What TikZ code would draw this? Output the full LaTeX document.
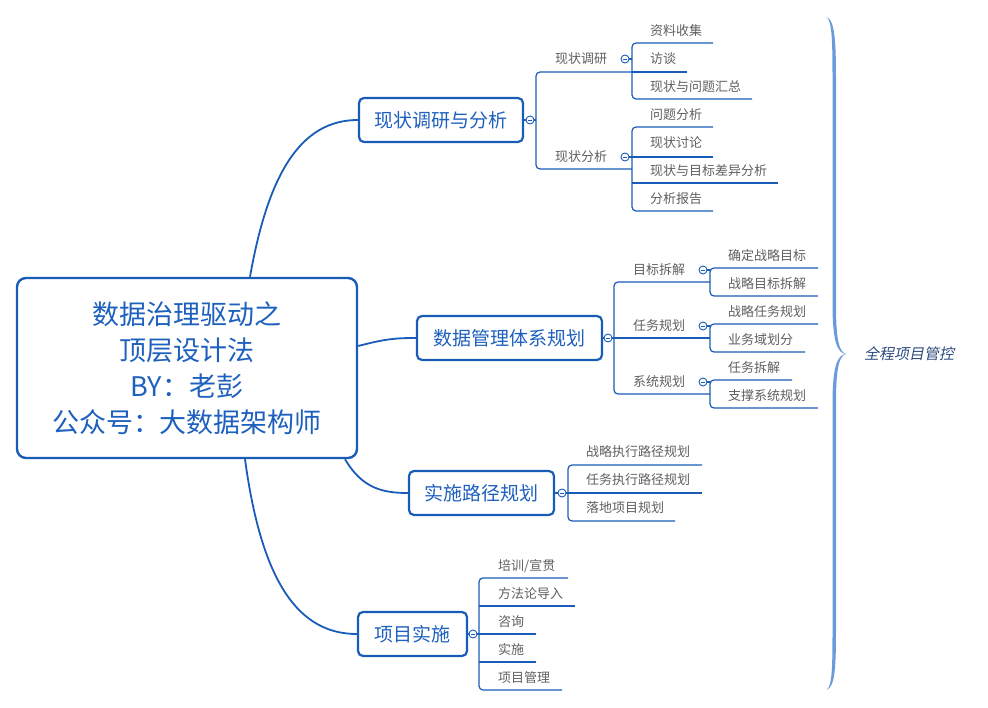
\documentclass[tikz,border=0pt]{standalone}
\usepackage{fontspec}
\setmainfont{Noto Sans CJK SC}
\newfontfamily\slantfont[FakeSlant=0.2]{Noto Sans CJK SC}
\definecolor{mblue}{RGB}{24,92,184}
\definecolor{tblue}{RGB}{30,96,190}
\definecolor{leafgray}{RGB}{95,95,95}
\definecolor{bracecol}{RGB}{105,155,218}
\definecolor{notecol}{RGB}{45,75,125}
\begin{document}
\begin{tikzpicture}[x=1pt,y=-1pt,
  rootbox/.style={draw=mblue, line width=2.4pt, rounded corners=9pt, fill=white, align=center, text=tblue, inner sep=0pt},
  brbox/.style={draw=mblue, line width=2.2pt, rounded corners=5pt, fill=white, text=tblue, inner sep=0pt, minimum height=44pt, font=\fontsize{19}{22}\selectfont},
  tog/.style={circle, draw=mblue, fill=white, line width=0.9pt, minimum size=8pt, inner sep=0pt,
    path picture={\draw[mblue,line width=0.7pt] ([xshift=-2.2pt]path picture bounding box.center) -- ([xshift=2.2pt]path picture bounding box.center);}},
  leaf/.style={anchor=west, inner sep=0pt, font=\fontsize{13}{15}\selectfont, text=leafgray},
  ul/.style={draw=mblue, line width=1.2pt},
  conn/.style={draw=mblue, line width=1.8pt},
  rc/.style={rounded corners=4pt}
]
\useasboundingbox (0,0) rectangle (988,708);

% root
\node[rootbox, minimum width=340pt, minimum height=180pt, font=\fontsize{27}{36}\selectfont] (root) at (187,368)
  {数据治理驱动之\\顶层设计法\\BY：老彭\\公众号：大数据架构师};

% branch boxes
\node[brbox, minimum width=164pt] (b1) at (441,120) {现状调研与分析};
\node[brbox, minimum width=185pt] (b2) at (509.5,338) {数据管理体系规划};
\node[brbox, minimum width=145pt] (b3) at (481.5,493) {实施路径规划};
\node[brbox, minimum width=109pt] (b4) at (412.5,634) {项目实施};

% root connectors
\draw[conn] ([xshift=63pt]root.north) .. controls (268,175) and (300,120) .. (b1.west);
\draw[conn] ([yshift=22pt]root.east) .. controls (385,339) and (395,338) .. (b2.west);
\draw[conn] ([xshift=158pt]root.south) .. controls (362,488) and (382,493) .. (b3.west);
\draw[conn] ([xshift=58pt]root.south) .. controls (262,585) and (300,634) .. (b4.west);

% toggles
\node[tog] (t1) at (530,120) {};
\node[tog] (t2) at (608,338) {};
\node[tog] (t3) at (562,493) {};
\node[tog] (t4) at (473,634) {};
\node[tog] (t11) at (625,59) {};
\node[tog] (t12) at (625,157) {};
\node[tog] (t21) at (703,270) {};
\node[tog] (t22) at (703,326) {};
\node[tog] (t23) at (703,382) {};

% ---------- branch 1 ----------
\draw[ul] (b1.east) -- (t1.west);
\draw[ul] (t1.east) -- (536,120);
\draw[ul,rc] (632,72) -- (536,72) -- (536,169) -- (632,169);
\node[leaf] (s11) at (555,59) {现状调研};
\node[leaf] (s12) at (555,157) {现状分析};
\draw[ul] (t11.east) -- (632,59);
\draw[ul,rc] (713,43) -- (632,43) -- (632,99) -- (752,99);
\draw[ul] (632,72) -- (687,72);
\node[leaf] (l111) at (650,31) {资料收集};
\node[leaf] (l112) at (650,59) {访谈};
\node[leaf] (l113) at (650,87) {现状与问题汇总};
\draw[ul] (t12.east) -- (632,157);
\draw[ul,rc] (713,127) -- (632,127) -- (632,211) -- (713,211);
\draw[ul] (632,157) -- (713,157);
\draw[ul] (632,183) -- (778,183);
\node[leaf] (l121) at (650,115) {问题分析};
\node[leaf] (l122) at (650,143) {现状讨论};
\node[leaf] (l123) at (650,171) {现状与目标差异分析};
\node[leaf] (l124) at (650,199) {分析报告};

% ---------- branch 2 ----------
\draw[ul] (b2.east) -- (t2.west);
\draw[ul] (t2.east) -- (710,338);
\draw[ul,rc] (710,282) -- (614,282) -- (614,394) -- (710,394);
\node[leaf] (s21) at (633,270) {目标拆解};
\node[leaf] (s22) at (633,326) {任务规划};
\node[leaf] (s23) at (633,382) {系统规划};
\draw[ul] (t21.east) -- (710,270);
\draw[ul,rc] (818,268) -- (710,268) -- (710,296) -- (818,296);
\node[leaf] (l211) at (728,256) {确定战略目标};
\node[leaf] (l212) at (728,284) {战略目标拆解};
\draw[ul] (t22.east) -- (710,326);
\draw[ul,rc] (818,324) -- (710,324) -- (710,352) -- (805,352);
\node[leaf] (l221) at (728,312) {战略任务规划};
\node[leaf] (l222) at (728,340) {业务域划分};
\draw[ul] (t23.east) -- (710,382);
\draw[ul,rc] (792,380) -- (710,380) -- (710,408) -- (818,408);
\node[leaf] (l231) at (728,368) {任务拆解};
\node[leaf] (l232) at (728,396) {支撑系统规划};

% ---------- branch 3 ----------
\draw[ul] (b3.east) -- (t3.west);
\draw[ul] (t3.east) -- (702,493);
\draw[ul,rc] (702,465) -- (568,465) -- (568,521) -- (675,521);
\node[leaf] (l31) at (586,452) {战略执行路径规划};
\node[leaf] (l32) at (586,480) {任务执行路径规划};
\node[leaf] (l33) at (586,508) {落地项目规划};

% ---------- branch 4 ----------
\draw[ul] (b4.east) -- (t4.west);
\draw[ul] (t4.east) -- (536,634);
\draw[ul,rc] (568,578) -- (479,578) -- (479,690) -- (562,690);
\draw[ul] (479,606) -- (575,606);
\draw[ul] (479,662) -- (536,662);
\node[leaf] (l41) at (498,566) {培训/宣贯};
\node[leaf] (l42) at (498,594) {方法论导入};
\node[leaf] (l43) at (498,622) {咨询};
\node[leaf] (l44) at (498,650) {实施};
\node[leaf] (l45) at (498,678) {项目管理};

% ---------- brace (tapered, filled) ----------
\coordinate (bt) at (826,17);
\coordinate (bb) at (826,690);
\coordinate (btip) at (846,354);
\fill[bracecol]
  (bt) .. controls (832.5,19) and (832.5,45) .. (832.5,85) -- (832.5,305)
  .. controls (832.5,340) and (837,353.5) .. (btip)
  .. controls (837,354.5) and (832.5,368) .. (832.5,403) -- (832.5,625)
  .. controls (832.5,665) and (832.5,688) .. (bb)
  .. controls (835.5,688) and (836,665) .. (836,625) -- (836,403)
  .. controls (836,368) and (839,356) .. (btip)
  .. controls (839,352) and (836,340) .. (836,305) -- (836,85)
  .. controls (836,45) and (835.5,19) .. (bt) -- cycle;
\node[anchor=west, inner sep=0pt, font=\slantfont\fontsize{15}{17}\selectfont, text=notecol] (note) at (864,354) {全程项目管控};
\end{tikzpicture}
\end{document}
